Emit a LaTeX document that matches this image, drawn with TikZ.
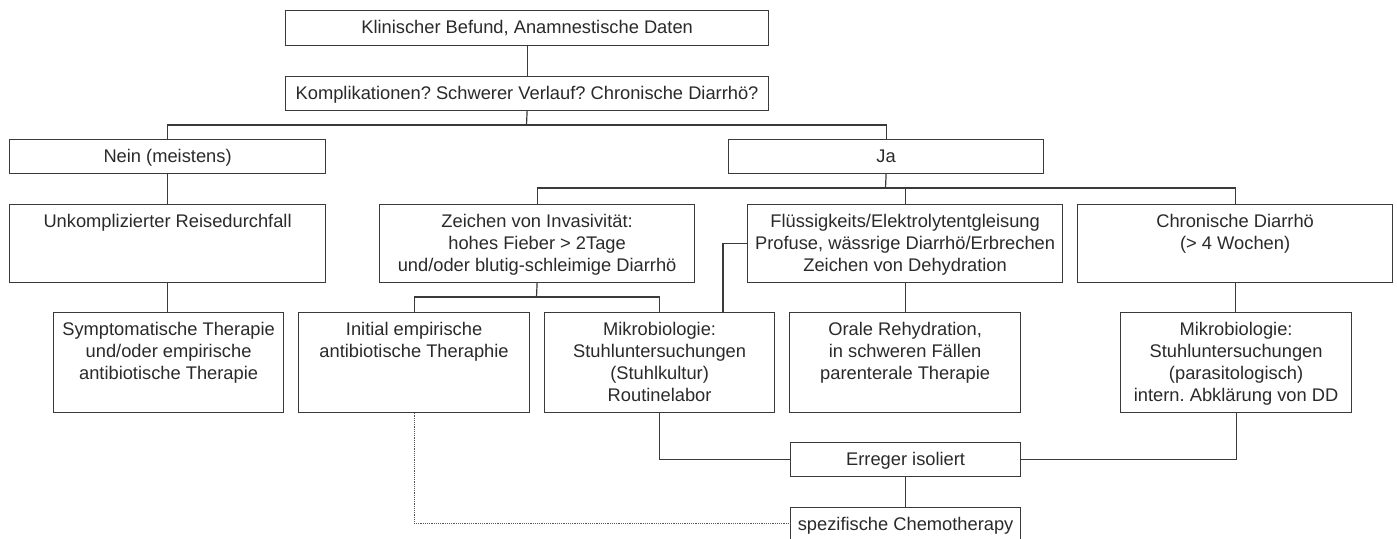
\documentclass[tikz,border=0pt]{standalone}
\usepackage{fontspec}
\setmainfont{Liberation Sans}
\frenchspacing
\definecolor{linecol}{HTML}{3A3A3A}
\definecolor{textcol}{HTML}{2A2A2A}
\newcommand{\DiagBox}[6]{%
  \node[diagbox, anchor=north west] (#1) at (#2,#3)
    {\parbox[t][\dimexpr #5pt-#3pt\relax][t]{\dimexpr #4pt-#2pt\relax}{\centering\rule{0pt}{22.4pt}#6}};}
\begin{document}
\begin{tikzpicture}[x=1pt,y=-1pt,
  diagbox/.style={draw=linecol, line width=1.2pt, inner sep=0pt, text=textcol,
    font=\fontsize{18.3}{22}\selectfont},
  conn/.style={draw=linecol, line width=1.2pt},
  dotconn/.style={draw=linecol!85, line width=1.2pt, densely dotted}]
\useasboundingbox (0,0) rectangle (1397,538);
\fill[white] (0,0) rectangle (1397,538);

\DiagBox{b1}{285}{10}{768}{45}{Klinischer Befund, Anamnestische Daten}
\DiagBox{b2}{285}{76}{768}{110}{Komplikationen? Schwerer Verlauf? Chronische Diarrhö?}
\DiagBox{nein}{9}{139}{325}{173}{Nein (meistens)}
\DiagBox{ja}{728}{139}{1043}{173}{Ja}
\DiagBox{unk}{9}{204}{325}{282}{Unkomplizierter Reisedurchfall}
\DiagBox{zei}{379}{204}{694}{282}{Zeichen von Invasivität:\\hohes Fieber > 2Tage\\und/oder blutig-schleimige Diarrhö}
\DiagBox{flu}{747}{204}{1062}{282}{Flüssigkeits/Elektrolytentgleisung\\Profuse, wässrige Diarrhö/Erbrechen\\Zeichen von Dehydration}
\DiagBox{chr}{1077}{204}{1392}{282}{Chronische Diarrhö\\(> 4 Wochen)}
\DiagBox{sym}{53}{312}{283}{412}{Symptomatische Therapie\\und/oder empirische\\antibiotische Therapie}
\DiagBox{ini}{298}{312}{529}{412}{Initial empirische\\antibiotische Theraphie}
\DiagBox{mik1}{544}{312}{774}{412}{Mikrobiologie:\\Stuhluntersuchungen\\(Stuhlkultur)\\Routinelabor}
\DiagBox{ora}{789}{312}{1020}{412}{Orale Rehydration,\\in schweren Fällen\\parenterale Therapie}
\DiagBox{mik2}{1120}{312}{1351}{412}{Mikrobiologie:\\Stuhluntersuchungen\\(parasitologisch)\\intern. Abklärung von DD}
\DiagBox{err}{790}{442}{1020}{476}{Erreger isoliert}
\DiagBox{che}{790}{507}{1020}{539}{spezifische Chemotherapy}

\coordinate (j1) at (526.5,125);
\coordinate (j2) at (885.5,188);
\coordinate (j3) at (536.5,297);
\coordinate (k1) at (723,312);

\draw[conn] (b1.south) -- (b2.south |- b2.north);
\draw[conn] (b2.south) -- (j1);
\draw[conn] (nein.north) |- (j1) -| (ja.north);
\draw[conn] (nein.south) -- (unk.north);
\draw[conn] (unk.south) -- (unk.south |- sym.north);
\draw[conn] (ja.south) -- (j2);
\draw[conn] (zei.north) |- (j2) -| (chr.north);
\draw[conn] (flu.north) -- (flu.north |- j2);
\draw[conn] (zei.south) -- (j3);
\draw[conn] (ini.north) |- (j3) -| (mik1.north);
\draw[conn] (flu.west) -| (k1);
\draw[conn] (flu.south) -- (flu.south |- ora.north);
\draw[conn] (chr.south) -- (chr.south |- mik2.north);
\draw[conn] (mik1.south) |- (err.west);
\draw[conn] (mik2.south) |- (err.east);
\draw[conn] (err.south) -- (err.south |- che.north);
\draw[dotconn] (ini.south) |- (che.west);
\end{tikzpicture}
\end{document}
